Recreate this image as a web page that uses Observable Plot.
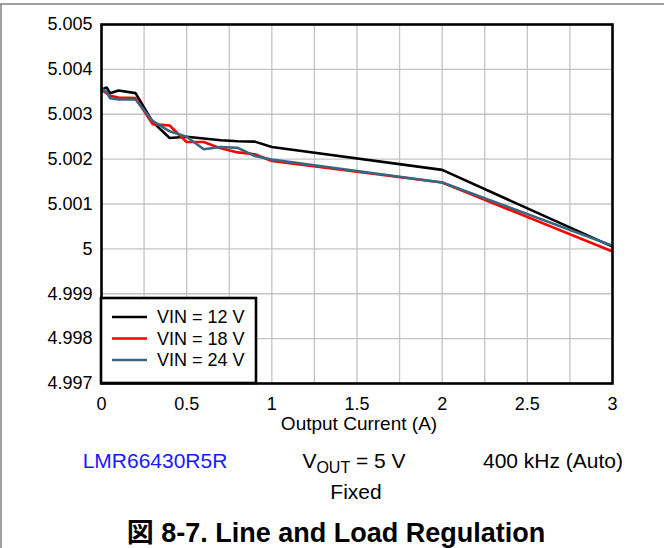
<!DOCTYPE html>
<html>
<head>
<meta charset="utf-8">
<script src="https://cdn.jsdelivr.net/npm/d3@7"></script>
<script src="https://cdn.jsdelivr.net/npm/@observablehq/plot@0.6"></script>
<style>
  html, body { margin: 0; padding: 0; background: #fff; }
  #chart { width: 664px; height: 548px; }
</style>
</head>
<body>
<div id="chart"></div>
<script>
// ---- data ----
const current = [0, 0.03, 0.05, 0.1, 0.2, 0.3, 0.4, 0.5, 0.6, 0.7, 0.8, 0.9, 1.0, 2.0, 3.0];
const vin12 = [5.00355, 5.0036, 5.00347, 5.00353, 5.00347, 5.00283, 5.00247, 5.0025, 5.00246, 5.00242, 5.0024, 5.00239, 5.00227, 5.00176, 5.00005];
const vin18 = [5.00353, 5.00347, 5.00341, 5.00337, 5.00336, 5.00278, 5.00275, 5.00238, 5.00238, 5.00224, 5.00215, 5.00211, 5.00196, 5.00148, 4.99994];
const vin24 = [5.00357, 5.0035, 5.00336, 5.00333, 5.00333, 5.00285, 5.00262, 5.0025, 5.00222, 5.00227, 5.00225, 5.00207, 5.00199, 5.00148, 5.00007];
const seriesNames = ["VIN = 12 V", "VIN = 18 V", "VIN = 24 V"];
const seriesColors = ["#000000", "#ff0000", "#3a6680"];
const xTicks = [0, 0.5, 1, 1.5, 2, 2.5, 3];
const xTickLabels = ["0", "0.5", "1", "1.5", "2", "2.5", "3"];
const xGrid = [0.25, 0.5, 0.75, 1, 1.25, 1.5, 1.75, 2, 2.25, 2.5, 2.75];
const yTicks = [4.997, 4.998, 4.999, 5, 5.001, 5.002, 5.003, 5.004, 5.005];
const yTickLabels = ["4.997", "4.998", "4.999", "5", "5.001", "5.002", "5.003", "5.004", "5.005"];
const xLabel = "Output Current (A)";
const notePart = "LMR66430R5R";
const noteFreq = "400 kHz (Auto)";
const noteFixed = "Fixed";
const title = "図 8-7. Line and Load Regulation";

const allSeries = [vin12, vin18, vin24];
const rows = [];
allSeries.forEach((vals, s) => {
  vals.forEach((v, i) => rows.push({series: seriesNames[s], x: current[i], y: v}));
});

const FONT = "'Liberation Sans', Arial, 'Noto Sans CJK JP', sans-serif";

const plot = Plot.plot({
  width: 664,
  height: 548,
  marginLeft: 101,
  marginRight: 52,
  marginTop: 24,
  marginBottom: 165,
  style: {fontFamily: FONT, fontSize: "18px", color: "#000", background: "#fff", overflow: "visible"},
  x: {domain: [0, 3]},
  y: {domain: [4.997, 5.005]},
  color: {domain: seriesNames, range: seriesColors},
  marks: [
    Plot.gridX(xGrid, {stroke: "#c4c4c4", strokeOpacity: 1, strokeWidth: 1.3}),
    Plot.gridY(yTicks, {stroke: "#c4c4c4", strokeOpacity: 1, strokeWidth: 1.3}),
    Plot.axisX(xTicks, {tickSize: 0, tickPadding: 14, tickFormat: (d, i) => xTickLabels[i], fontSize: 18, label: null}),
    Plot.axisY(yTicks, {tickSize: 0, tickPadding: 9, tickFormat: (d, i) => yTickLabels[i], fontSize: 18, label: null}),
    Plot.line(rows, {x: "x", y: "y", z: "series", stroke: "series", strokeWidth: 2.6, strokeLinejoin: "miter", strokeLinecap: "butt"}),
    Plot.frame({stroke: "#000", strokeWidth: 2.6})
  ]
});

document.getElementById("chart").appendChild(plot);

const svg = d3.select(plot);

// outer gray page frame
svg.append("line").attr("x1", 0).attr("x2", 664).attr("y1", 4).attr("y2", 4).attr("stroke", "#7f7f7f").attr("stroke-width", 1.5);
svg.append("line").attr("x1", 1).attr("x2", 1).attr("y1", 4).attr("y2", 548).attr("stroke", "#7f7f7f").attr("stroke-width", 1.5);

// legend
const lg = svg.append("g").attr("font-family", FONT).attr("font-size", 18).attr("text-anchor", "start");
lg.append("rect").attr("x", 101).attr("y", 298).attr("width", 155).attr("height", 85)
  .attr("fill", "#fff").attr("stroke", "#000").attr("stroke-width", 2.6);
const rowY = [317, 338.5, 360];
seriesNames.forEach((name, i) => {
  lg.append("line").attr("x1", 112).attr("x2", 147).attr("y1", rowY[i]).attr("y2", rowY[i])
    .attr("stroke", seriesColors[i]).attr("stroke-width", 2.6);
  lg.append("text").attr("x", 157).attr("y", rowY[i]).attr("dy", "0.35em").attr("fill", "#000").text(name);
});

// texts below the plot
const t = svg.append("g").attr("font-family", FONT).attr("fill", "#000").attr("text-anchor", "middle");
t.append("text").attr("x", 359).attr("y", 423).attr("dy", "0.35em").attr("font-size", 19).text(xLabel);
t.append("text").attr("x", 155).attr("y", 461).attr("dy", "0.35em").attr("font-size", 21).attr("fill", "#1a1aff").text(notePart);
const vt = t.append("text").attr("x", 354).attr("y", 461).attr("dy", "0.35em").attr("font-size", 21);
vt.append("tspan").text("V");
vt.append("tspan").attr("font-size", 16).attr("dy", 5).text("OUT");
vt.append("tspan").attr("dy", -5).text(" = 5 V");
t.append("text").attr("x", 553).attr("y", 461).attr("dy", "0.35em").attr("font-size", 21).text(noteFreq);
t.append("text").attr("x", 356).attr("y", 492).attr("dy", "0.35em").attr("font-size", 21).text(noteFixed);
t.append("text").attr("x", 336).attr("y", 533).attr("dy", "0.35em").attr("font-size", 27).attr("font-weight", "bold").text(title);
</script>
</body>
</html>
